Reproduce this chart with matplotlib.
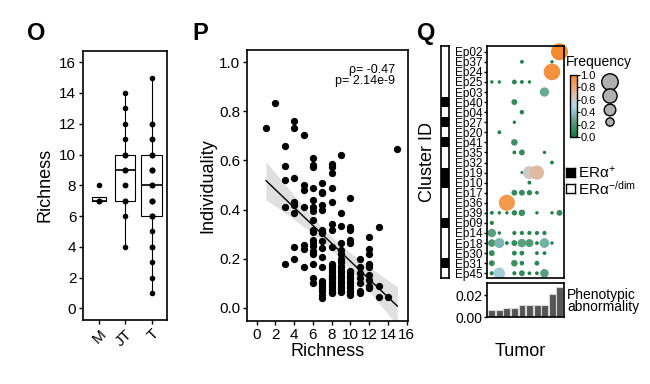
import numpy as np
import matplotlib
matplotlib.use("Agg")
import matplotlib.pyplot as plt
from matplotlib.colors import LinearSegmentedColormap, Normalize
from matplotlib.cm import ScalarMappable

plt.rcParams['font.family'] = ['Liberation Sans', 'DejaVu Sans']
plt.rcParams['mathtext.fontset'] = 'custom'
plt.rcParams['mathtext.rm'] = 'Liberation Sans'
plt.rcParams['mathtext.default'] = 'regular'

# ---- panel O: richness per group ----
groups = ['M', 'JT', 'T']
rich_M = [7, 7, 7, 8]
rich_JT = [4, 6, 7, 7, 7, 8, 8, 9, 9, 9, 10, 10, 10, 11, 12, 13, 14]
rich_T = [1, 2, 3, 4, 4, 5, 6, 6, 6, 6, 7, 7, 7, 7, 8, 8, 8, 9, 9, 9, 9,
          10, 10, 10, 11, 11, 12, 12, 15]

# ---- panel P: individuality vs richness ----
indiv = {
    1: [0.734],
    2: [0.833],
    3: [0.66, 0.578, 0.52, 0.409, 0.177],
    4: [0.76, 0.734, 0.53, 0.432, 0.42, 0.385, 0.246, 0.2],
    5: [0.705, 0.5, 0.48, 0.41, 0.255, 0.24, 0.167],
    6: [0.61, 0.58, 0.575, 0.486, 0.44, 0.41, 0.395, 0.357, 0.317, 0.31,
        0.276, 0.265, 0.25, 0.23, 0.22, 0.18, 0.12, 0.1],
    7: [0.507, 0.473, 0.466, 0.418, 0.398, 0.317, 0.303, 0.27, 0.242, 0.208,
        0.167, 0.11, 0.1, 0.09, 0.08, 0.07, 0.05, 0.04],
    8: [0.584, 0.572, 0.548, 0.486, 0.432, 0.34, 0.317, 0.249, 0.18, 0.167,
        0.155, 0.145, 0.135, 0.125, 0.115, 0.105, 0.095, 0.085, 0.075, 0.065, 0.06],
    9: [0.622, 0.385, 0.333, 0.262, 0.235, 0.22, 0.2, 0.185, 0.17, 0.16, 0.15,
        0.14, 0.13, 0.12, 0.11, 0.1, 0.09, 0.08, 0.07, 0.065],
    10: [0.446, 0.33, 0.317, 0.276, 0.262, 0.15, 0.14, 0.13, 0.12, 0.11, 0.1,
         0.09, 0.08, 0.07, 0.06, 0.05],
    11: [0.2, 0.167, 0.14, 0.12, 0.1, 0.07, 0.06],
    12: [0.29, 0.24, 0.22, 0.18, 0.167, 0.133, 0.113, 0.09, 0.08],
    13: [0.33, 0.088, 0.045],
    14: [0.045],
    15: [0.647],
}
rho_text = 'ρ= -0.47\np= 2.14e-9'

# ---- panel Q: cluster frequency per tumor ----
clusters = ['Ep02', 'Ep37', 'Ep24', 'Ep25', 'Ep03', 'Ep40', 'Ep04', 'Ep27',
            'Ep20', 'Ep41', 'Ep35', 'Ep32', 'Ep19', 'Ep10', 'Ep17', 'Ep36',
            'Ep39', 'Ep09', 'Ep14', 'Ep18', 'Ep30', 'Ep31', 'Ep45']
er_positive = ['Ep40', 'Ep27', 'Ep41', 'Ep19', 'Ep10', 'Ep09', 'Ep31']
# frequency per cluster, 10 tumors (0 = absent)
freq = [
    [0, 0, 0, 0, 0, 0, 0, 0, 0, 1.0],
    [0, 0, 0, 0, 0.05, 0, 0, 0, 0.04, 0],
    [0, 0, 0, 0, 0, 0, 0, 0, 0.95, 0],
    [0.04, 0.04, 0, 0.08, 0.05, 0.04, 0, 0, 0, 0],
    [0, 0, 0, 0, 0, 0, 0, 0.3, 0, 0],
    [0, 0, 0, 0.12, 0, 0, 0, 0, 0, 0],
    [0, 0, 0, 0, 0.07, 0, 0, 0, 0, 0],
    [0, 0, 0, 0.04, 0, 0, 0, 0, 0, 0],
    [0, 0.05, 0, 0, 0, 0, 0, 0, 0, 0],
    [0, 0, 0, 0.15, 0, 0, 0, 0, 0, 0],
    [0, 0, 0, 0.05, 0.12, 0, 0, 0.04, 0, 0],
    [0, 0, 0, 0, 0, 0, 0, 0, 0.05, 0],
    [0, 0, 0, 0, 0.03, 0.6, 0.7, 0, 0, 0],
    [0, 0, 0, 0, 0, 0.05, 0, 0, 0, 0],
    [0, 0, 0, 0.12, 0.12, 0.1, 0.05, 0, 0, 0],
    [0, 0, 0.9, 0, 0, 0, 0, 0, 0, 0],
    [0.05, 0.04, 0.04, 0.1, 0.15, 0, 0.04, 0, 0.04, 0.12],
    [0.06, 0, 0, 0, 0, 0, 0, 0, 0, 0],
    [0.25, 0.04, 0, 0.06, 0.06, 0.06, 0.06, 0.06, 0, 0],
    [0.2, 0.35, 0.05, 0.12, 0.25, 0.22, 0.05, 0.33, 0.04, 0],
    [0.12, 0, 0, 0.08, 0.08, 0, 0.05, 0.05, 0, 0],
    [0.12, 0, 0, 0.15, 0.07, 0, 0.08, 0, 0, 0],
    [0.06, 0.45, 0, 0.06, 0.12, 0.05, 0.05, 0.25, 0, 0],
]
abnormality = [0.0064, 0.007, 0.0089, 0.0089, 0.0108, 0.0108, 0.0108,
               0.0117, 0.0216, 0.0273]
size_legend = [0.8, 0.6, 0.4, 0.2]

cmap = LinearSegmentedColormap.from_list('freq', [
    (0.0, '#137a3f'), (0.25, '#5a9e80'), (0.4, '#8ec3c8'), (0.5, '#b5d8e8'),
    (0.65, '#d9c4b8'), (0.8, '#eea870'), (1.0, '#f58a2e')])

W, H = 650, 384
fig = plt.figure(figsize=(W / 100, H / 100), dpi=100)


def box(l, t, r, b):
    return [l / W, 1 - b / H, (r - l) / W, (b - t) / H]


def style(ax):
    for s in ax.spines.values():
        s.set_linewidth(1.2)
    ax.tick_params(length=3, width=1, labelsize=11, pad=2)


# panel letters
for lab, x in [('O', 27), ('P', 192), ('Q', 417)]:
    fig.text(x / W, 1 - 40 / H, lab, fontsize=17, fontweight='bold')

# ---- O ----
axO = fig.add_axes(box(83.3, 50.7, 167.3, 320))
data_O = [rich_M, rich_JT, rich_T]
axO.boxplot(data_O, positions=[0, 1, 2], widths=[0.55, 0.77, 0.77],
            showfliers=False, showcaps=False, patch_artist=True,
            boxprops=dict(facecolor='white', edgecolor='black', linewidth=0.8),
            medianprops=dict(color='black', linewidth=1.2),
            whiskerprops=dict(color='black', linewidth=0.8), zorder=1)
for i, d in enumerate(data_O):
    axO.scatter(np.full(len(d), i), d, s=9, color='black', zorder=3)
axO.set_xlim(-0.6, 2.6)
axO.set_ylim(-0.76, 16.75)
axO.set_yticks(range(0, 17, 2))
axO.set_xticks([0, 1, 2])
axO.set_xticklabels(groups, rotation=45, ha='right', rotation_mode='anchor',
                    fontsize=12)
axO.set_ylabel('Richness', fontsize=13, labelpad=4)
style(axO)

# ---- P ----
axP = fig.add_axes(box(247.3, 50, 408.3, 320.7))
xs = np.concatenate([np.full(len(v), k) for k, v in indiv.items()])
ys = np.concatenate([v for v in indiv.values()])
slope, inter = np.polyfit(xs, ys, 1)
xl = np.linspace(xs.min(), xs.max(), 100)
yl = slope * xl + inter
n = len(xs)
resid = ys - (slope * xs + inter)
se = np.sqrt(np.sum(resid ** 2) / (n - 2))
ci = 1.97 * se * np.sqrt(1 / n + (xl - xs.mean()) ** 2 / np.sum((xs - xs.mean()) ** 2))
axP.fill_between(xl, yl - ci, yl + ci, color='#d4d4d4', alpha=0.7, lw=0, zorder=1)
axP.scatter(xs, ys, s=18, color='black', zorder=2)
axP.plot(xl, yl, color='black', lw=1, zorder=3)
axP.set_xlim(-1, 16.17)
axP.set_ylim(-0.053, 1.05)
axP.set_xticks(range(0, 17, 2))
axP.set_yticks(np.arange(0, 1.01, 0.2))
axP.set_yticklabels(['0.0', '0.2', '0.4', '0.6', '0.8', '1.0'])
axP.set_xlabel('Richness', fontsize=13, labelpad=1)
axP.set_ylabel('Individuality', fontsize=13, labelpad=2)
axP.text(0.92, 0.95, rho_text, transform=axP.transAxes, ha='right', va='top',
         fontsize=9, linespacing=0.9)
style(axP)

# ---- Q ----
nr, nc = len(clusters), len(freq[0])
axQ = fig.add_axes(box(487.3, 45.7, 564, 278.3))
F = np.array(freq)
rr, cc = np.nonzero(F)
vals = F[rr, cc]
axQ.scatter(cc, rr, s=150 * vals, c=vals, cmap=cmap, vmin=0, vmax=1,
            linewidths=0, clip_on=False, zorder=2)
axQ.set_xlim(-0.6, nc - 0.4)
axQ.set_ylim(nr - 0.5, -0.6)
axQ.set_yticks(range(nr))
axQ.set_yticklabels(clusters, fontsize=8.5)
axQ.set_xticks([])
for s in axQ.spines.values():
    s.set_linewidth(1.2)
axQ.tick_params(axis='y', length=2.5, width=1, pad=1)

# ER status strip
axS = fig.add_axes(box(441, 45.7, 449, 278.3))
axS.barh(range(nr), 1, height=1,
         color=['black' if c in er_positive else 'white' for c in clusters],
         linewidth=0)
axS.set_xlim(0, 1)
axS.set_ylim(nr - 0.5, -0.6)
axS.set_xticks([])
axS.set_yticks([])
for s in axS.spines.values():
    s.set_linewidth(1.2)
fig.text(427 / W, 1 - 162 / H, 'Cluster ID', rotation=90, fontsize=13,
         ha='center', va='center')

# abnormality bars
axB = fig.add_axes(box(487.3, 283.3, 564.3, 317.3))
axB.bar(range(nc), abnormality, width=0.92, color='#555555',
        edgecolor='#d8d8d8', linewidth=0.8)
axB.set_xlim(-0.6, nc - 0.4)
axB.set_ylim(0, 0.0311)
axB.set_yticks([0, 0.02])
axB.set_yticklabels(['0.00', '0.02'])
axB.set_xticks([])
for s in axB.spines.values():
    s.set_linewidth(1.2)
axB.tick_params(axis='y', length=2.5, width=1, labelsize=10, pad=1)
fig.text(567 / W, 1 - 301 / H, 'Phenotypic\nabnormality', fontsize=10,
         va='center', linespacing=0.8)
fig.text(520 / W, 1 - 352 / H, 'Tumor', fontsize=13, ha='center', va='center')

# colour legend
fig.text(566 / W, 1 - 62 / H, 'Frequency', fontsize=10, va='center')
axC = fig.add_axes(box(570, 75, 577, 137))
cb = fig.colorbar(ScalarMappable(norm=Normalize(0, 1), cmap=cmap), cax=axC)
cb.set_ticks(np.arange(0, 1.01, 0.2))
cb.set_ticklabels(['0.0', '0.2', '0.4', '0.6', '0.8', '1.0'])
cb.outline.set_linewidth(1)
axC.tick_params(labelsize=8, length=2, pad=0.5)

# size legend
axL = fig.add_axes(box(598, 70, 622, 132))
axL.set_xlim(0, 1)
axL.set_ylim(132, 70)
axL.scatter(np.full(len(size_legend), 0.5), [82, 96, 110, 122],
            s=[175 * v for v in size_legend], color='#b0b0b0',
            edgecolors='black', linewidths=1, clip_on=False)
axL.axis('off')

# ER legend
for y, lab, fc in [(173, 'ERα$^{+}$', 'black'), (189, 'ERα$^{-/dim}$', 'white')]:
    axE = fig.add_axes(box(566, y - 5, 575, y + 4))
    axE.set_facecolor(fc)
    axE.set_xticks([])
    axE.set_yticks([])
    for s in axE.spines.values():
        s.set_linewidth(1)
    fig.text(578 / W, 1 - y / H, lab, fontsize=11, va='center')

fig.savefig('out.png', dpi=100)
